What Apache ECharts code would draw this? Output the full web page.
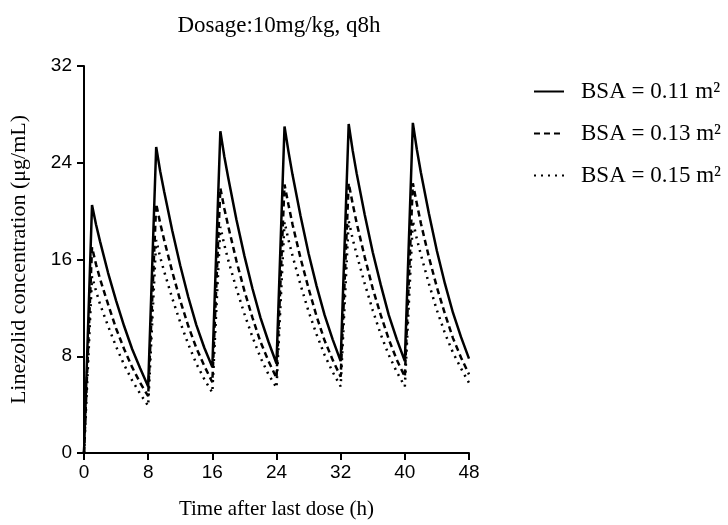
<!DOCTYPE html>
<html lang="en" style="height: 100%">
<head>
    <meta charset="utf-8">
</head>
<body style="height: 100%; margin: 0; background: #fff">
<div id="container" style="height: 525px; width: 728px"></div>

<script type="text/javascript" src="https://cdn.jsdelivr.net/npm/echarts@6/dist/echarts.min.js"></script>

<script type="text/javascript">
    // time points (h)
    var times = [0, 1, 1.5, 2, 3, 4, 5, 6, 7, 8,
      9, 9.5, 10, 11, 12, 13, 14, 15, 16,
      17, 17.5, 18, 19, 20, 21, 22, 23, 24,
      25, 25.5, 26, 27, 28, 29, 30, 31, 32,
      33, 33.5, 34, 35, 36, 37, 38, 39, 40,
      41, 41.5, 42, 43, 44, 45, 46, 47, 48];

    // concentration (ug/mL) per BSA
    var bsa011 = [0, 20.5, 18.9, 17.5, 14.9, 12.6, 10.5, 8.6, 7.0, 5.5,
      25.3, 23.3, 21.6, 18.4, 15.5, 12.9, 10.6, 8.7, 7.1,
      26.6, 24.5, 22.7, 19.3, 16.3, 13.6, 11.2, 9.2, 7.4,
      27.0, 24.9, 23.0, 19.6, 16.5, 13.8, 11.4, 9.4, 7.6,
      27.2, 25.0, 23.1, 19.7, 16.6, 13.9, 11.4, 9.4, 7.6,
      27.3, 25.1, 23.2, 19.8, 16.7, 14.0, 11.6, 9.6, 7.8];
    var bsa013 = [0, 17.0, 15.6, 14.4, 12.3, 10.3, 8.6, 7.1, 5.8, 4.7,
      20.6, 19.0, 17.6, 15.0, 12.6, 10.5, 8.7, 7.2, 5.85,
      21.9, 20.2, 18.7, 15.9, 13.4, 11.2, 9.2, 7.6, 6.2,
      22.2, 20.5, 18.9, 16.1, 13.6, 11.3, 9.3, 7.7, 6.3,
      22.3, 20.6, 19.0, 16.2, 13.6, 11.4, 9.4, 7.7, 6.3,
      22.3, 20.6, 19.0, 16.2, 13.7, 11.5, 9.5, 7.9, 6.5];
    var bsa015 = [0, 14.6, 13.4, 12.3, 10.5, 8.8, 7.3, 6.0, 4.9, 3.9,
      17.6, 16.2, 15.0, 12.8, 10.8, 9.0, 7.4, 6.1, 5.0,
      18.7, 17.2, 15.9, 13.6, 11.5, 9.6, 7.9, 6.5, 5.4,
      19.1, 17.6, 16.3, 13.9, 11.7, 9.8, 8.1, 6.7, 5.5,
      19.2, 17.7, 16.4, 14.0, 11.8, 9.8, 8.1, 6.7, 5.5,
      19.2, 17.7, 16.4, 14.0, 11.8, 9.9, 8.3, 7.0, 5.8];

    var names = ['BSA = 0.11 m²', 'BSA = 0.13 m²', 'BSA = 0.15 m²'];
    var xTicks = [0, 8, 16, 24, 32, 40, 48];
    var yTicks = [0, 8, 16, 24, 32];

    var serif = 'Liberation Serif';
    var sans = 'Liberation Sans';

    var dom = document.getElementById('container');
    var myChart = echarts.init(dom, null, { renderer: 'canvas' });

    function pairs(vals) {
      return times.map(function (t, i) { return [t, vals[i]]; });
    }

    function lineSeries(name, vals, type) {
      return {
        name: name,
        type: 'line',
        data: pairs(vals),
        showSymbol: false,
        symbol: 'none',
        animation: false,
        lineStyle: { color: '#000', width: 2.5, type: type },
        itemStyle: { color: '#000' }
      };
    }

    var option = {
      backgroundColor: '#fff',
      title: {
        text: 'Dosage:10mg/kg, q8h',
        left: 274,
        textAlign: 'center',
        top: 9,
        textStyle: { fontFamily: serif, fontSize: 23, fontWeight: 'normal', color: '#000' }
      },
      legend: {
        orient: 'vertical',
        left: 528,
        top: 75,
        itemWidth: 30,
        itemHeight: 14,
        itemGap: 19,
        // only the line sample, no marker
        itemStyle: { color: 'rgba(0,0,0,0)', borderWidth: 0 },
        textStyle: { fontFamily: serif, fontSize: 23, color: '#000', padding: [0, 0, 0, 12] },
        data: names
      },
      grid: { left: 82, top: 66, width: 387, height: 388 },
      xAxis: {
        type: 'value',
        min: xTicks[0],
        max: xTicks[xTicks.length - 1],
        interval: 8,
        name: 'Time after last dose (h)',
        nameLocation: 'middle',
        nameGap: 46,
        nameTextStyle: { fontFamily: serif, fontSize: 21, color: '#000' },
        splitLine: { show: false },
        axisLine: { lineStyle: { color: '#000', width: 2 } },
        axisTick: { length: 7, lineStyle: { color: '#000', width: 2 } },
        axisLabel: { fontFamily: sans, fontSize: 19, color: '#000', margin: 10 }
      },
      yAxis: {
        type: 'value',
        min: yTicks[0],
        max: yTicks[yTicks.length - 1],
        interval: 8,
        name: 'Linezolid concentration (μg/mL)',
        nameLocation: 'middle',
        nameGap: 54,
        nameTextStyle: { fontFamily: serif, fontSize: 22, color: '#000' },
        splitLine: { show: false },
        axisLine: { show: true, lineStyle: { color: '#000', width: 2 } },
        axisTick: { show: true, length: 7, lineStyle: { color: '#000', width: 2 } },
        axisLabel: { fontFamily: sans, fontSize: 19, color: '#000', margin: 12 }
      },
      series: [
        lineSeries(names[0], bsa011, 'solid'),
        lineSeries(names[1], bsa013, [6, 4]),
        lineSeries(names[2], bsa015, [2, 5])
      ]
    };

    myChart.setOption(option);
    window.addEventListener('resize', myChart.resize);
</script>
</body>
</html>
